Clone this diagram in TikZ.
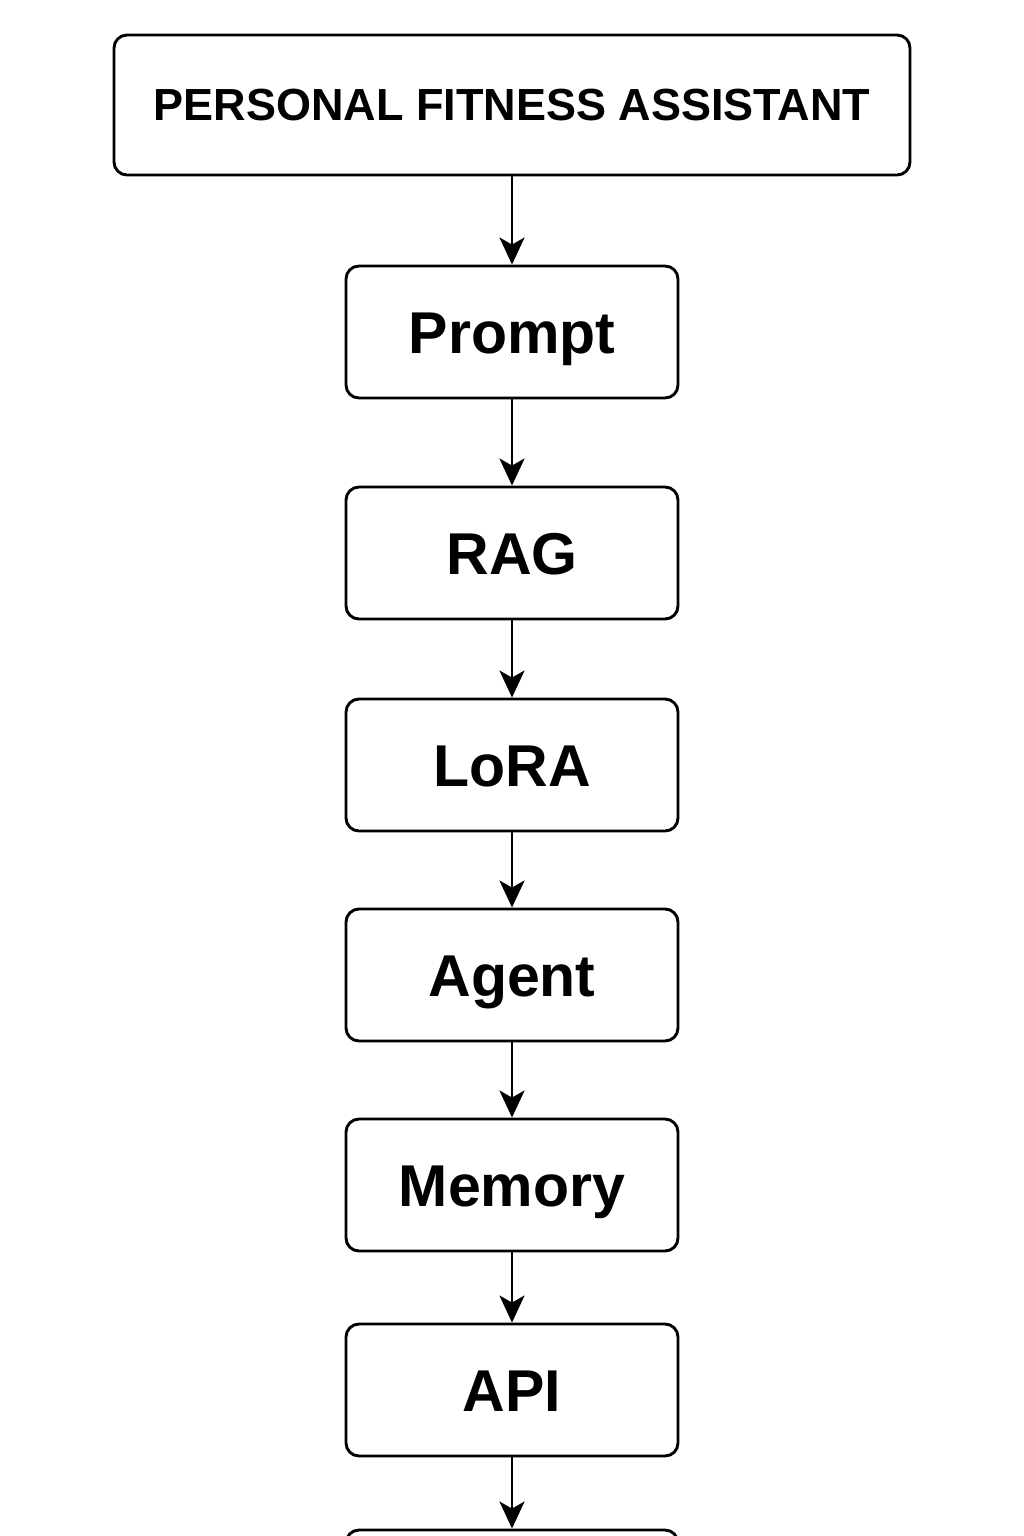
\documentclass[tikz,border=0pt]{standalone}
\usepackage{fontspec}
\setmainfont{Liberation Sans}
\usetikzlibrary{arrows.meta}
\tikzset{
  stagebox/.style={draw, line width=2.9pt, rounded corners=13pt, minimum width=332pt,
    minimum height=132pt, inner sep=0pt, text height=42pt, text depth=0pt,
    font=\fontsize{59}{70}\selectfont\bfseries},
  titlebox/.style={stagebox, minimum width=796pt, minimum height=140pt, text height=32pt,
    font=\fontsize{45}{54}\selectfont\bfseries},
  flow/.style={line width=2.9pt, -{Stealth[length=27pt, width=25pt, inset=7pt]}}
}
\begin{document}
\begin{tikzpicture}[x=1pt, y=-1pt]
  \useasboundingbox (0,0) rectangle (1024,1536);
  \clip (0,0) rectangle (1024,1536);
  % Title
  \node[titlebox] (title) at (512,105) {PERSONAL FITNESS ASSISTANT};
  % Stages
  \node[stagebox] (prompt) at (512,332) {Prompt};
  \node[stagebox] (rag) at (512,553) {RAG};
  \node[stagebox] (lora) at (512,765) {LoRA};
  \node[stagebox] (agent) at (512,975) {Agent};
  \node[stagebox] (memory) at (512,1185) {Memory};
  \node[stagebox] (api) at (512,1390) {API};
  \node[stagebox] (next) at (512,1596) {};
  % Arrows
  \draw[flow] (title) -- (prompt);
  \draw[flow] (prompt) -- (rag);
  \draw[flow] (rag) -- (lora);
  \draw[flow] (lora) -- (agent);
  \draw[flow] (agent) -- (memory);
  \draw[flow] (memory) -- (api);
  \draw[flow] (api) -- (next);
\end{tikzpicture}
\end{document}
